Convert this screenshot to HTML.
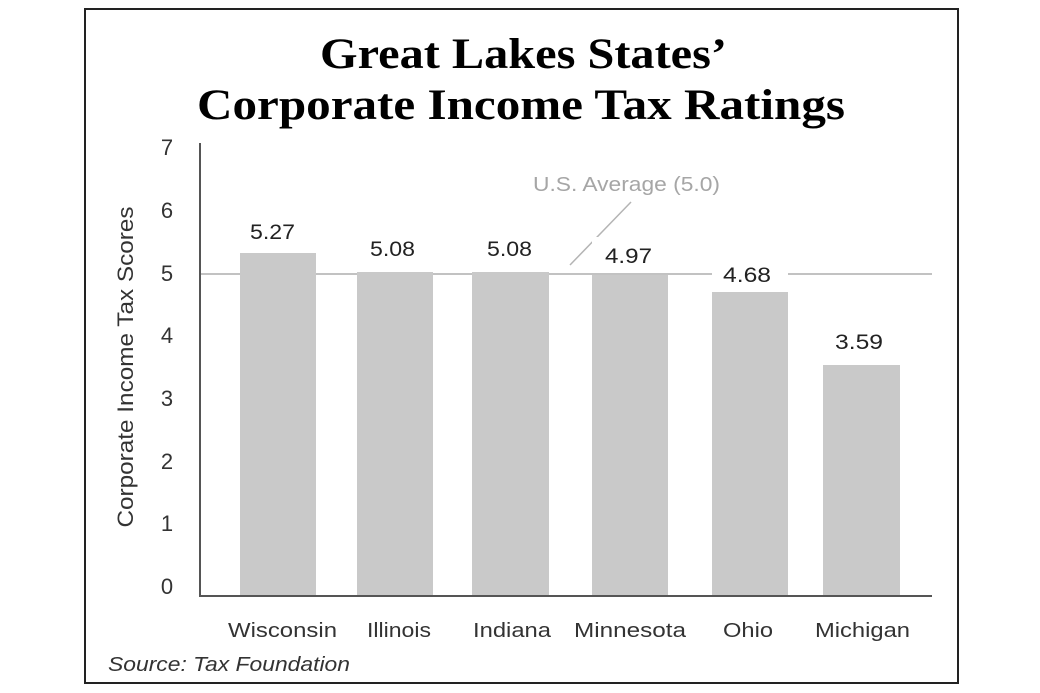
<!DOCTYPE html>
<html><head><meta charset="utf-8"><style>
html,body{margin:0;padding:0;background:#fff;}
svg{display:block;}
</style></head><body>
<svg width="1040" height="693" viewBox="0 0 1040 693" xmlns="http://www.w3.org/2000/svg">
<rect x="0" y="0" width="1040" height="693" fill="#fff"/>
<rect x="85" y="9" width="873" height="674" fill="none" stroke="#222" stroke-width="2"/>
<g font-family="'Liberation Serif',serif" font-weight="bold" fill="#000" font-size="43">
<text x="320" y="68" textLength="407" lengthAdjust="spacingAndGlyphs">Great Lakes States’</text>
<text x="197" y="119" textLength="648" lengthAdjust="spacingAndGlyphs">Corporate Income Tax Ratings</text>
</g>
<line x1="200" y1="274" x2="932" y2="274" stroke="#c2c2c2" stroke-width="2"/>
<line x1="631" y1="202" x2="570" y2="265" stroke="#b4b4b4" stroke-width="1.5"/>
<g fill="#c9c9c9">
<rect x="240" y="253" width="76" height="343"/>
<rect x="357" y="272" width="76" height="324"/>
<rect x="472" y="272" width="77" height="324"/>
<rect x="592" y="275" width="76" height="321"/>
<rect x="712" y="292" width="76" height="304"/>
<rect x="823" y="365" width="77" height="231"/>
</g>
<rect x="592" y="237" width="76" height="33" fill="#fff"/>
<rect x="712" y="256" width="76" height="33" fill="#fff"/>
<line x1="200" y1="143" x2="200" y2="597" stroke="#555" stroke-width="2"/>
<line x1="199" y1="596" x2="932" y2="596" stroke="#555" stroke-width="2"/>
<g font-family="'Liberation Sans',sans-serif" fill="#333" font-size="22" text-anchor="middle">
<text x="167" y="594">0</text>
<text x="167" y="531">1</text>
<text x="167" y="469">2</text>
<text x="167" y="406">3</text>
<text x="167" y="343">4</text>
<text x="167" y="281">5</text>
<text x="167" y="218">6</text>
<text x="167" y="155">7</text>
</g>
<text transform="translate(133,367) rotate(-90)" font-family="'Liberation Sans',sans-serif" font-size="22" fill="#333" text-anchor="middle" textLength="321" lengthAdjust="spacingAndGlyphs">Corporate Income Tax Scores</text>
<g font-family="'Liberation Sans',sans-serif" fill="#222" font-size="21">
<text x="250" y="239" textLength="45" lengthAdjust="spacingAndGlyphs">5.27</text>
<text x="370" y="256" textLength="45" lengthAdjust="spacingAndGlyphs">5.08</text>
<text x="487" y="256" textLength="45" lengthAdjust="spacingAndGlyphs">5.08</text>
<text x="605" y="263" textLength="47" lengthAdjust="spacingAndGlyphs">4.97</text>
<text x="723" y="282" textLength="48" lengthAdjust="spacingAndGlyphs">4.68</text>
<text x="835" y="349" textLength="48" lengthAdjust="spacingAndGlyphs">3.59</text>
</g>
<text x="533" y="191" font-family="'Liberation Sans',sans-serif" font-size="20" fill="#a6a6a6" textLength="187" lengthAdjust="spacingAndGlyphs">U.S. Average (5.0)</text>
<g font-family="'Liberation Sans',sans-serif" fill="#333" font-size="20">
<text x="228" y="637" textLength="109" lengthAdjust="spacingAndGlyphs">Wisconsin</text>
<text x="367" y="637" textLength="64" lengthAdjust="spacingAndGlyphs">Illinois</text>
<text x="473" y="637" textLength="78" lengthAdjust="spacingAndGlyphs">Indiana</text>
<text x="574" y="637" textLength="112" lengthAdjust="spacingAndGlyphs">Minnesota</text>
<text x="723" y="637" textLength="50" lengthAdjust="spacingAndGlyphs">Ohio</text>
<text x="815" y="637" textLength="95" lengthAdjust="spacingAndGlyphs">Michigan</text>
</g>
<text x="108" y="671" font-family="'Liberation Sans',sans-serif" font-style="italic" font-size="20" fill="#333" textLength="242" lengthAdjust="spacingAndGlyphs">Source: Tax Foundation</text>
</svg>
</body></html>
